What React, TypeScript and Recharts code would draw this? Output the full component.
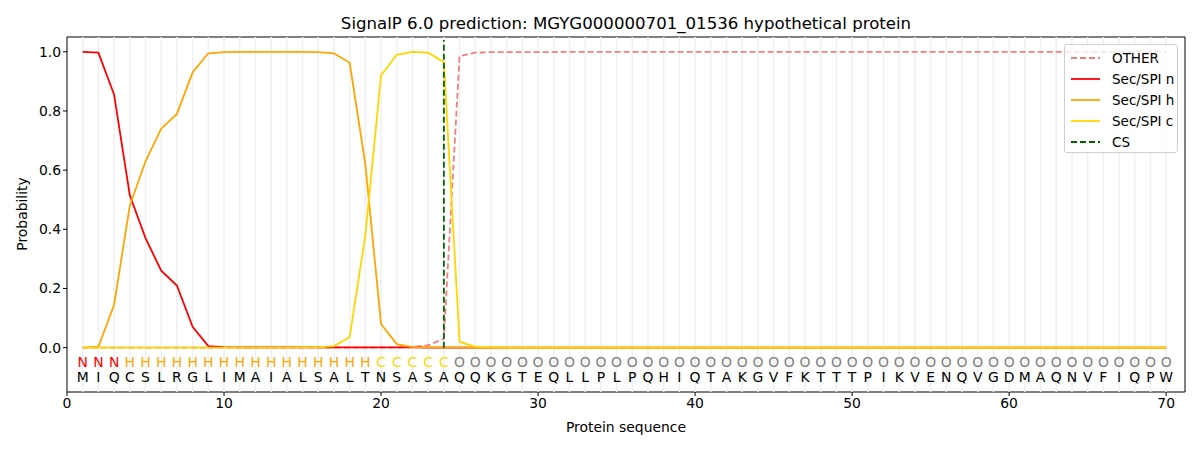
import { LineChart, Line, XAxis, YAxis, ReferenceLine, ReferenceArea } from 'recharts';

const sequence = 'MIQCSLRGLIMAIALSALTNSASAQQKGTEQLLPLPQHIQTAKGVFKTTTPIKVENQVGDMAQNVFIQPW'.split('');
const regions = ('NNNHHHHHHHHHHHHHHHHCCCCC' + 'OOOOOOOOOO' + 'OOOOOOOOOO' + 'OOOOOOOOOO' + 'OOOOOOOOOO' + 'OOOOOO').split('');

const other = [
  0, 0, 0, 0, 0, 0, 0, 0, 0, 0,
  0, 0, 0, 0, 0, 0, 0, 0, 0, 0,
  0, 0.002, 0.008, 0.03, 0.985, 0.997, 0.999, 0.999, 0.999, 0.999,
  0.999, 1, 1, 1, 1, 1, 1, 1, 1, 1,
  1, 1, 1, 1, 1, 1, 1, 1, 1, 1,
  1, 1, 1, 1, 1, 1, 1, 1, 1, 1,
  1, 1, 1, 1, 1, 1, 1, 1, 1, 1,
];
const secN = [
  1.0, 0.997, 0.855, 0.515, 0.37, 0.26, 0.21, 0.07, 0.005, 0.002,
  0.001, 0.001, 0.001, 0.001, 0.001, 0.001, 0.001, 0.001, 0.001, 0.001,
  0.001, 0.001, 0, 0, 0, 0, 0, 0, 0, 0,
  0, 0, 0, 0, 0, 0, 0, 0, 0, 0,
  0, 0, 0, 0, 0, 0, 0, 0, 0, 0,
  0, 0, 0, 0, 0, 0, 0, 0, 0, 0,
  0, 0, 0, 0, 0, 0, 0, 0, 0, 0,
];
const secH = [
  0, 0.003, 0.145, 0.48, 0.63, 0.74, 0.79, 0.93, 0.995, 0.999,
  1, 1, 1, 1, 1, 0.999, 0.995, 0.963, 0.62, 0.08,
  0.012, 0.002, 0.001, 0.001, 0.001, 0, 0, 0, 0, 0,
  0, 0, 0, 0, 0, 0, 0, 0, 0, 0,
  0, 0, 0, 0, 0, 0, 0, 0, 0, 0,
  0, 0, 0, 0, 0, 0, 0, 0, 0, 0,
  0, 0, 0, 0, 0, 0, 0, 0, 0, 0,
];
const secC = [
  0, 0, 0, 0, 0, 0, 0, 0, 0, 0,
  0, 0, 0, 0, 0.001, 0.001, 0.005, 0.035, 0.38, 0.92,
  0.99, 1.0, 0.997, 0.965, 0.02, 0.003, 0.001, 0, 0, 0,
  0, 0, 0, 0, 0, 0, 0, 0, 0, 0,
  0, 0, 0, 0, 0, 0, 0, 0, 0, 0,
  0, 0, 0, 0, 0, 0, 0, 0, 0, 0,
  0, 0, 0, 0, 0, 0, 0, 0, 0, 0,
];
const cleavageSite = 24;
const xTicks = [0, 10, 20, 30, 40, 50, 60, 70];
const yTicks = [0, 0.2, 0.4, 0.6, 0.8, 1.0];

const regionColors: Record<string, string> = { N: '#ff0000', H: '#ffa500', C: '#ffd700', O: '#808080' };

const data = sequence.map((aa, i) => ({
  pos: i + 1,
  aa,
  region: regions[i],
  other: other[i],
  n: secN[i],
  h: secH[i],
  c: secC[i],
}));

const legendItems = [
  { name: 'OTHER', color: '#f08080', dash: true },
  { name: 'Sec/SPI n', color: '#ff0000', dash: false },
  { name: 'Sec/SPI h', color: '#ffa500', dash: false },
  { name: 'Sec/SPI c', color: '#ffd700', dash: false },
  { name: 'CS', color: '#006400', dash: true },
];

const font = 'DejaVu Sans, sans-serif';
const labelSize = 13.9;

function LegendBox() {
  return (
    <div
      style={{
        position: 'absolute',
        left: 1064,
        top: 44,
        width: 114,
        height: 109,
        boxSizing: 'border-box',
        background: 'rgba(255,255,255,0.8)',
        border: '1px solid #d0d0d0',
        borderRadius: 3,
        padding: '3px 0 0 6px',
        fontFamily: font,
        fontSize: 13.5,
        whiteSpace: 'nowrap',
      }}
    >
      {legendItems.map((it) => (
        <div key={it.name} style={{ display: 'flex', alignItems: 'center', height: 20.8 }}>
          <svg width={30} height={10} style={{ marginRight: 11 }}>
            <line x1={0} y1={5} x2={29} y2={5} stroke={it.color} strokeWidth={1.8} strokeDasharray={it.dash ? '6 3' : undefined} />
          </svg>
          <span>{it.name}</span>
        </div>
      ))}
    </div>
  );
}

function letterDot(key: 'region' | 'aa') {
  return (props: any) => {
    const { cx, cy, payload, index } = props;
    const fill = key === 'aa' ? '#000' : regionColors[payload.region];
    return (
      <text key={`${key}-${index}`} x={cx} y={cy} textAnchor="middle" dominantBaseline="central" fontSize={13.9} fontFamily={font} fill={fill}>
        {payload[key]}
      </text>
    );
  };
}

export default function App() {
  return (
    <div style={{ position: 'absolute', left: 0, top: 0, width: 1200, height: 450, background: '#fff', fontFamily: font }}>
      <div style={{ position: 'absolute', left: 626, top: 23, transform: 'translate(-50%, -50%)', fontSize: 16.6, whiteSpace: 'nowrap' }}>
        SignalP 6.0 prediction: MGYG000000701_01536 hypothetical protein
      </div>
      <div style={{ position: 'absolute', left: 22, top: 214, transform: 'translate(-50%, -50%) rotate(-90deg)', fontSize: labelSize, whiteSpace: 'nowrap' }}>
        Probability
      </div>
      <div style={{ position: 'absolute', left: 626, top: 427, transform: 'translate(-50%, -50%)', fontSize: labelSize, whiteSpace: 'nowrap' }}>
        Protein sequence
      </div>
      <LineChart width={1200} height={450} data={data} margin={{ top: 37, right: 15, bottom: 0, left: 0 }}>
        <XAxis
          dataKey="pos"
          type="number"
          domain={[0, 71.2]}
          ticks={xTicks}
          height={58}
          tickSize={4}
          tickLine={{ stroke: '#000' }}
          axisLine={false}
          tick={{ fill: '#000', fontSize: labelSize, fontFamily: font }}
          allowDataOverflow
        />
        <YAxis
          type="number"
          domain={[-0.15, 1.05]}
          ticks={yTicks}
          width={67}
          tickSize={4}
          tickLine={{ stroke: '#000' }}
          axisLine={false}
          tickFormatter={(v: number) => v.toFixed(1)}
          tick={{ fill: '#000', fontSize: labelSize, fontFamily: font }}
          allowDataOverflow
        />
        {data.map((d) => (
          <ReferenceLine key={`g${d.pos}`} x={d.pos} stroke="#f0f0f0" strokeWidth={1.5} />
        ))}
        <Line dataKey="other" stroke="#f08080" strokeWidth={1.8} strokeDasharray="6 3" dot={false} isAnimationActive={false} />
        <Line dataKey="n" stroke="#ff0000" strokeWidth={1.8} dot={false} isAnimationActive={false} />
        <Line dataKey="h" stroke="#ffa500" strokeWidth={1.8} dot={false} isAnimationActive={false} />
        <Line dataKey="c" stroke="#ffd700" strokeWidth={1.8} dot={false} isAnimationActive={false} />
        <ReferenceLine
          segment={[{ x: cleavageSite, y: 0 }, { x: cleavageSite, y: 1.04 }]}
          stroke="#006400"
          strokeWidth={1.8}
          strokeDasharray="6 3"
        />
        <Line dataKey={() => -0.05} stroke="none" dot={letterDot('region')} activeDot={false} isAnimationActive={false} legendType="none" />
        <Line dataKey={() => -0.1} stroke="none" dot={letterDot('aa')} activeDot={false} isAnimationActive={false} legendType="none" />
        <ReferenceArea x1={0} x2={71.2} y1={-0.15} y2={1.05} fill="none" stroke="#000" strokeWidth={1} ifOverflow="visible" />
      </LineChart>
      <LegendBox />
    </div>
  );
}
